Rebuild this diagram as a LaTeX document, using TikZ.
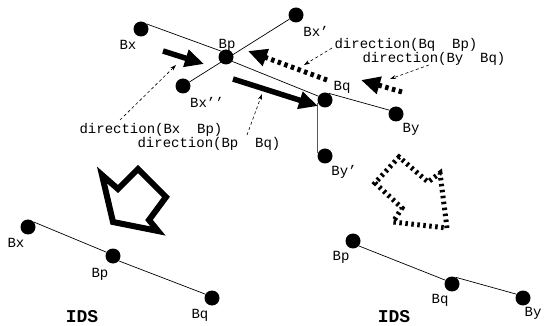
\documentclass[tikz,border=0pt]{standalone}
\usepackage{fontspec}
\setmonofont{Liberation Mono}
\usetikzlibrary{arrows.meta}
\begin{document}
\begin{tikzpicture}[x=1pt,y=-1pt,
  dot/.style={circle,fill=black,inner sep=0pt,minimum size=15pt},
  lbl/.style={font=\ttfamily\fontsize{14}{14}\selectfont,inner sep=0pt},
  ids/.style={font=\ttfamily\bfseries\fontsize{18}{18}\selectfont,inner sep=0pt},
  link/.style={line width=0.7pt},
  bigarrow/.style={line width=5.5pt,-{Triangle[length=19pt,width=17pt]}},
  dotarrow/.style={line width=5pt,dash pattern=on 3.5pt off 3.5pt,-{Triangle[length=19pt,width=17pt]}},
  note/.style={line width=0.6pt,dash pattern=on 3pt off 2.5pt,-{Stealth[length=6pt,width=4pt]}},
  hollow/.style={line width=6pt,line join=miter,miter limit=4},
  hollowdot/.style={line width=5pt,dash pattern=on 2.5pt off 3.5pt,line join=miter},
]
\useasboundingbox (0,0) rectangle (544,326);
% top dots
\node[dot] (bx) at (141,29) {};
\node[dot] (bxp) at (296,15) {};
\node[dot] (bp) at (226,57) {};
\node[dot] (bxpp) at (183,86) {};
\node[dot] (bq) at (325,100) {};
\node[dot] (by) at (396,114) {};
\node[dot] (byp) at (325,156) {};
% top links
\draw[link] (bx.40) -- (bp.130);
\draw[link] (bxpp) -- (bxp);
\draw[link] (bp.-35) -- (bq.150);
\draw[link] (bq.60) -- (by.150);
\draw[link,black!65] (bq.200) -- (byp.160);
% top labels
\node[lbl] (tbx) at (128,45) {Bx};
\node[lbl] (tbxp) at (316,31) {Bx’};
\node[lbl] (tbp) at (227,45) {Bp};
\node[lbl] (tbxpp) at (207,102) {Bx’’};
\node[lbl] (tbq) at (342,87) {Bq};
\node[lbl] (tby) at (411,129) {By};
\node[lbl] (tbyp) at (344,172) {By’};
% thick arrows
\coordinate (a1s) at (163,51); \coordinate (a1e) at (204,64);
\coordinate (a2s) at (233,79); \coordinate (a2e) at (318,106);
\coordinate (a3s) at (327,80); \coordinate (a3e) at (248,51);
\coordinate (a4s) at (402,92); \coordinate (a4e) at (361,80);
\draw[bigarrow] (a1s) -- (a1e);
\draw[bigarrow] (a2s) -- (a2e);
\draw[dotarrow] (a3s) -- (a3e);
\draw[dotarrow] (a4s) -- (a4e);
% direction texts
\node[lbl] (d1) at (151,130) {direction(Bx\ \ Bp)};
\node[lbl] (d2) at (209,144) {direction(Bp\ \ Bq)};
\node[lbl] (d3) at (406,45) {direction(Bq\ \ Bp)};
\node[lbl] (d4) at (434,59) {direction(By\ \ Bq)};
\coordinate (n1s) at (120,120); \coordinate (n1e) at (176,65);
\coordinate (n2s) at (247,135); \coordinate (n2e) at (262,94);
\coordinate (n3s) at (332,48); \coordinate (n3e) at (304,65);
\coordinate (n4s) at (429,65); \coordinate (n4e) at (390,79);
\draw[note] (n1s) -- (n1e);
\draw[note] (n2s) -- (n2e);
\draw[note] (n3s) -- (n3e);
\draw[note] (n4s) -- (n4e);
% hollow arrows
\draw[hollow] (113,222) -- (102,175) -- (118,189) -- (138,169) -- (166,197) -- (149,220) -- (158,231) -- cycle;
\draw[hollowdot] (447,228) -- (440,173) -- (428,182) -- (399,157) -- (375,183) -- (402,208) -- (393,222) -- cycle;
% bottom left
\node[dot] (lbx) at (28,227) {};
\node[dot] (lbp) at (113,256) {};
\node[dot] (lbq) at (212,298) {};
\draw[link] (lbx.40) -- (lbp.150);
\draw[link] (lbp.-40) -- (lbq.150);
\node[lbl] (llbx) at (16,243) {Bx};
\node[lbl] (llbp) at (100,274) {Bp};
\node[lbl] (llbq) at (200,315) {Bq};
\node[ids] (lids) at (82,317) {IDS};
% bottom right
\node[dot] (rbp) at (353,241) {};
\node[dot] (rbq) at (452,284) {};
\node[dot] (rby) at (523,298) {};
\draw[link] (rbp.-40) -- (rbq.150);
\draw[link] (rbq.60) -- (rby.150);
\node[lbl] (rlbp) at (341,257) {Bp};
\node[lbl] (rlbq) at (440,300) {Bq};
\node[lbl] (rlby) at (533,313) {By};
\node[ids] (rids) at (394,317) {IDS};
\end{tikzpicture}
\end{document}
